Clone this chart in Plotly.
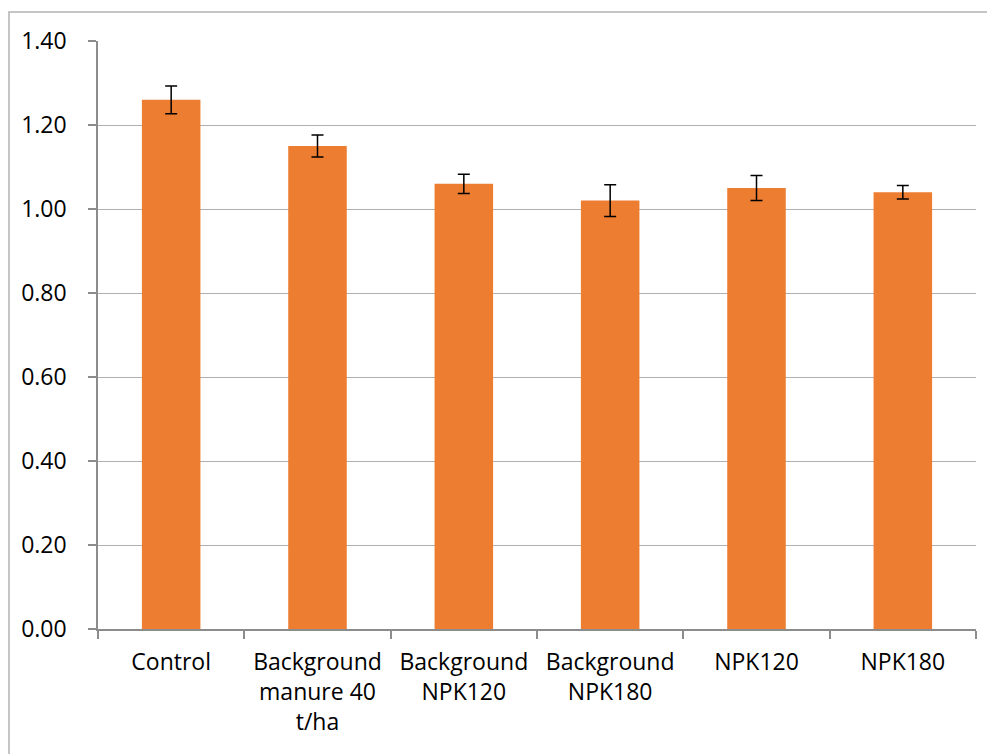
import plotly.graph_objects as go

categories = ["Control", "Background<br>manure 40<br>t/ha", "Background<br>NPK120",
              "Background<br>NPK180", "NPK120", "NPK180"]
values = [1.26, 1.15, 1.06, 1.02, 1.05, 1.04]
errors = [0.033, 0.026, 0.023, 0.038, 0.030, 0.016]
y_ticks = [0.0, 0.2, 0.4, 0.6, 0.8, 1.0, 1.2, 1.4]

font_family = "Open Sans, Liberation Sans, sans-serif"

L, T, R, B = 90, 33, 27, 133
pw = 995 - L - R
ph = 754 - T - B

fig = go.Figure(go.Bar(
    x=categories, y=values,
    marker=dict(color="#ED7D31", line=dict(width=0)),
    width=0.4,
    error_y=dict(type="data", array=errors, color="#000000", thickness=1.5, width=6),
))

fig.update_layout(
    width=995, height=754,
    margin=dict(l=L, r=R, t=T, b=B),
    paper_bgcolor="white", plot_bgcolor="white",
    font=dict(family=font_family, size=23, color="#000000"),
    showlegend=False,
    shapes=[dict(type="rect", xref="paper", yref="paper",
                 x0=(1 - L) / pw, x1=1.2, y0=-0.5, y1=1 + (T - 4) / ph,
                 line=dict(color="#B3B3B3", width=1.5), fillcolor="rgba(0,0,0,0)", layer="below")],
)
fig.update_yaxes(
    range=[0, 1.4], tickvals=y_ticks, tickformat=".2f",
    showgrid=True, gridcolor="#B0B0B0", gridwidth=1.2,
    showline=True, linecolor="#8C8C8C", linewidth=1.5,
    ticks="outside", ticklen=8, tickcolor="#8C8C8C", tickwidth=1.5,
    ticklabelstandoff=17, zeroline=False, automargin=False,
)
fig.update_xaxes(
    type="category", showgrid=False,
    showline=True, linecolor="#8C8C8C", linewidth=1.5,
    ticks="outside", tickson="boundaries", ticklen=8, tickcolor="#8C8C8C", tickwidth=1.5,
    ticklabelstandoff=12, automargin=False,
)

fig.write_html("out.html")
